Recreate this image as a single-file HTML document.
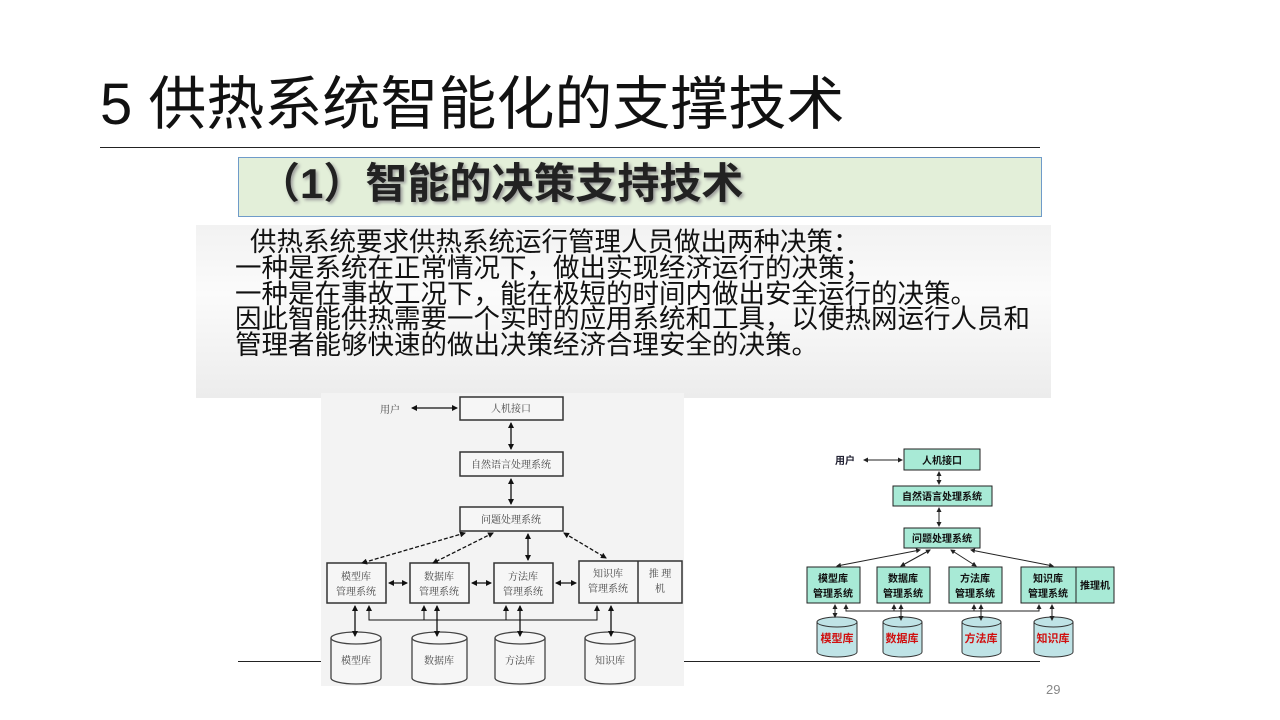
<!DOCTYPE html>
<html><head><meta charset="utf-8"><style>
html,body{margin:0;padding:0;background:#fff;}
body{width:1280px;height:720px;position:relative;overflow:hidden;font-family:"Liberation Sans","Noto Sans CJK SC",sans-serif;}
.t{position:absolute;white-space:nowrap;}
</style></head><body>
<div class="t" style="left:100px;top:70px;font-size:58px;line-height:70px;color:#111;">5 供热系统智能化的支撑技术</div>
<div style="position:absolute;left:100px;top:147px;width:940px;height:1px;background:#222;"></div>
<div style="position:absolute;left:238px;top:157px;width:802px;height:58px;background:#e3efd9;border:1px solid #6f9bc9;"></div>
<div class="t" style="left:258px;top:159px;font-size:42px;line-height:50px;font-weight:bold;color:#222;text-shadow:2px 2px 3px #999;">（1）智能的决策支持技术</div>
<div style="position:absolute;left:196px;top:225px;width:855px;height:173px;background:linear-gradient(to bottom,#f2f2f2,#fbfbfb 40%,#ececec);"></div>
<div class="t" style="left:235px;top:230px;font-size:26.5px;line-height:25.8px;color:#111;">
<div style="padding-left:15px">供热系统要求供热系统运行管理人员做出两种决策：</div>
<div>一种是系统在正常情况下，做出实现经济运行的决策；</div>
<div>一种是在事故工况下，能在极短的时间内做出安全运行的决策。</div>
<div>因此智能供热需要一个实时的应用系统和工具，以使热网运行人员和</div>
<div>管理者能够快速的做出决策经济合理安全的决策。</div>
</div>
<div style="position:absolute;left:238px;top:661px;width:802px;height:1px;background:#222;"></div>
<div class="t" style="left:1046px;top:682px;font-size:13px;color:#888;">29</div>

<svg width="1280" height="720" style="position:absolute;left:0;top:0" xmlns="http://www.w3.org/2000/svg">
<defs>
<marker id="a" markerWidth="6" markerHeight="6" refX="5" refY="3" orient="auto-start-reverse" markerUnits="userSpaceOnUse"><path d="M0,0 L6,3 L0,6 z" fill="#111"/></marker>
<marker id="b" markerWidth="5" markerHeight="5" refX="4" refY="2.5" orient="auto-start-reverse" markerUnits="userSpaceOnUse"><path d="M0,0 L5,2.5 L0,5 z" fill="#222"/></marker>
</defs>
<rect x="321" y="393" width="363" height="293" fill="#f3f3f3"/>
<g stroke="#333" stroke-width="1.5" fill="#f6f6f6">
<rect x="460" y="397" width="103" height="23"/>
<rect x="460" y="452" width="103" height="24"/>
<rect x="460" y="507" width="103" height="24"/>
<rect x="327" y="563" width="59" height="40"/>
<rect x="410" y="563" width="59" height="40"/>
<rect x="494" y="563" width="59" height="40"/>
<rect x="579" y="561" width="103" height="42"/>
<line x1="638" y1="561" x2="638" y2="603"/>
</g>
<g stroke="#444" stroke-width="1.3" fill="#f6f6f6">
<path d="M331,638 v40 a25,6 0 0 0 50,0 v-40"/><ellipse cx="356" cy="638" rx="25" ry="6"/>
<path d="M412,638 v40 a27,6 0 0 0 55,0 v-40"/><ellipse cx="439.5" cy="638" rx="27.5" ry="6"/>
<path d="M495,638 v40 a25,6 0 0 0 50,0 v-40"/><ellipse cx="520" cy="638" rx="25" ry="6"/>
<path d="M585,638 v40 a25,6 0 0 0 50,0 v-40"/><ellipse cx="610" cy="638" rx="25" ry="6"/>
</g>
<g stroke="#111" stroke-width="1.3" fill="none">
<line x1="412" y1="408" x2="457" y2="408" marker-start="url(#a)" marker-end="url(#a)"/>
<line x1="511" y1="423" x2="511" y2="449" marker-start="url(#a)" marker-end="url(#a)"/>
<line x1="511" y1="479" x2="511" y2="504" marker-start="url(#a)" marker-end="url(#a)"/>
<line x1="465" y1="533" x2="362" y2="563" stroke-dasharray="4,2" marker-start="url(#a)" marker-end="url(#a)"/>
<line x1="493" y1="533" x2="433" y2="563" stroke-dasharray="4,2" marker-start="url(#a)" marker-end="url(#a)"/>
<line x1="528" y1="534" x2="528" y2="560" marker-start="url(#a)" marker-end="url(#a)"/>
<line x1="564" y1="533" x2="606" y2="558" stroke-dasharray="4,2" marker-start="url(#a)" marker-end="url(#a)"/>
<line x1="389" y1="583" x2="407" y2="583" marker-start="url(#a)" marker-end="url(#a)"/>
<line x1="472" y1="583" x2="491" y2="583" marker-start="url(#a)" marker-end="url(#a)"/>
<line x1="556" y1="583" x2="576" y2="583" marker-start="url(#a)" marker-end="url(#a)"/>
<line x1="355" y1="606" x2="355" y2="636" marker-start="url(#a)" marker-end="url(#a)"/>
<line x1="437" y1="606" x2="437" y2="636" marker-start="url(#a)" marker-end="url(#a)"/>
<line x1="520" y1="606" x2="520" y2="636" marker-start="url(#a)" marker-end="url(#a)"/>
<line x1="611" y1="606" x2="611" y2="636" marker-start="url(#a)" marker-end="url(#a)"/>
<path d="M369,606 V620 H597 V606" stroke-width="1" marker-start="url(#a)" marker-end="url(#a)"/>
<line x1="424" y1="620" x2="424" y2="606" stroke-width="1" marker-end="url(#a)"/>
<line x1="506" y1="620" x2="506" y2="606" stroke-width="1" marker-end="url(#a)"/>
</g>
<g font-size="10" fill="#444" text-anchor="middle" font-family="Liberation Serif,Noto Serif CJK SC,serif">
<text x="390" y="413">用户</text>
<text x="511" y="412">人机接口</text>
<text x="511" y="468">自然语言处理系统</text>
<text x="511" y="523">问题处理系统</text>
<text x="356" y="580">模型库</text><text x="356" y="595">管理系统</text>
<text x="439" y="580">数据库</text><text x="439" y="595">管理系统</text>
<text x="523" y="580">方法库</text><text x="523" y="595">管理系统</text>
<text x="608" y="577">知识库</text><text x="608" y="592">管理系统</text>
<text x="660" y="577">推 理</text><text x="660" y="592">机</text>
<text x="356" y="664">模型库</text><text x="439" y="664">数据库</text>
<text x="520" y="664">方法库</text><text x="610" y="664">知识库</text>
</g>
<g stroke="#222" stroke-width="1" fill="#a8ead6">
<rect x="904" y="449" width="76" height="21"/>
<rect x="893" y="486" width="99" height="20"/>
<rect x="904" y="528" width="76" height="20"/>
<rect x="807" y="567" width="53" height="36"/>
<rect x="877" y="567" width="53" height="36"/>
<rect x="949" y="567" width="53" height="36"/>
<rect x="1021" y="567" width="55" height="36"/>
<rect x="1076" y="567" width="38" height="36"/>
</g>
<g stroke="#333" stroke-width="1" fill="#bfe3e6">
<path d="M817,622 v30 a20,5 0 0 0 40,0 v-30"/><ellipse cx="837" cy="622" rx="20" ry="5"/>
<path d="M883,622 v30 a19.5,5 0 0 0 39,0 v-30"/><ellipse cx="902.5" cy="622" rx="19.5" ry="5"/>
<path d="M962,622 v30 a19.5,5 0 0 0 39,0 v-30"/><ellipse cx="981.5" cy="622" rx="19.5" ry="5"/>
<path d="M1034,622 v30 a19.5,5 0 0 0 39,0 v-30"/><ellipse cx="1053.5" cy="622" rx="19.5" ry="5"/>
</g>
<g stroke="#222" stroke-width="1" fill="none">
<line x1="864" y1="460" x2="902" y2="460" marker-start="url(#b)" marker-end="url(#b)"/>
<line x1="939" y1="472" x2="939" y2="484" marker-start="url(#b)" marker-end="url(#b)"/>
<line x1="939" y1="508" x2="939" y2="526" marker-start="url(#b)" marker-end="url(#b)"/>
<line x1="920" y1="550" x2="837" y2="566" marker-start="url(#b)" marker-end="url(#b)"/>
<line x1="930" y1="550" x2="901" y2="566" marker-start="url(#b)" marker-end="url(#b)"/>
<line x1="951" y1="550" x2="976" y2="566" marker-start="url(#b)" marker-end="url(#b)"/>
<line x1="971" y1="550" x2="1053" y2="566" marker-start="url(#b)" marker-end="url(#b)"/>
<line x1="835" y1="605" x2="835" y2="617" marker-start="url(#b)" marker-end="url(#b)"/>
<line x1="901" y1="605" x2="901" y2="620" marker-start="url(#b)" marker-end="url(#b)"/>
<line x1="981" y1="605" x2="981" y2="620" marker-start="url(#b)" marker-end="url(#b)"/>
<line x1="1052" y1="605" x2="1052" y2="620" marker-start="url(#b)" marker-end="url(#b)"/>
<path d="M846,605 V611 H1039 V605" marker-start="url(#b)" marker-end="url(#b)"/>
<line x1="894" y1="611" x2="894" y2="605" marker-end="url(#b)"/>
<line x1="974" y1="611" x2="974" y2="605" marker-end="url(#b)"/>
</g>
<g font-size="10" font-weight="bold" fill="#111" text-anchor="middle" font-family="Liberation Sans,Noto Sans CJK SC,sans-serif">
<text x="845" y="464" fill="#223">用户</text>
<text x="942" y="464">人机接口</text>
<text x="942" y="500">自然语言处理系统</text>
<text x="942" y="542">问题处理系统</text>
<text x="833" y="582">模型库</text><text x="833" y="597">管理系统</text>
<text x="903" y="582">数据库</text><text x="903" y="597">管理系统</text>
<text x="975" y="582">方法库</text><text x="975" y="597">管理系统</text>
<text x="1048" y="582">知识库</text><text x="1048" y="597">管理系统</text>
<text x="1095" y="589">推理机</text>
</g>
<g font-size="11" font-weight="bold" fill="#d01010" text-anchor="middle" font-family="Liberation Sans,Noto Sans CJK SC,sans-serif">
<text x="837" y="642">模型库</text><text x="902" y="642">数据库</text>
<text x="981" y="642">方法库</text><text x="1053" y="642">知识库</text>
</g>
</svg>
</body></html>
